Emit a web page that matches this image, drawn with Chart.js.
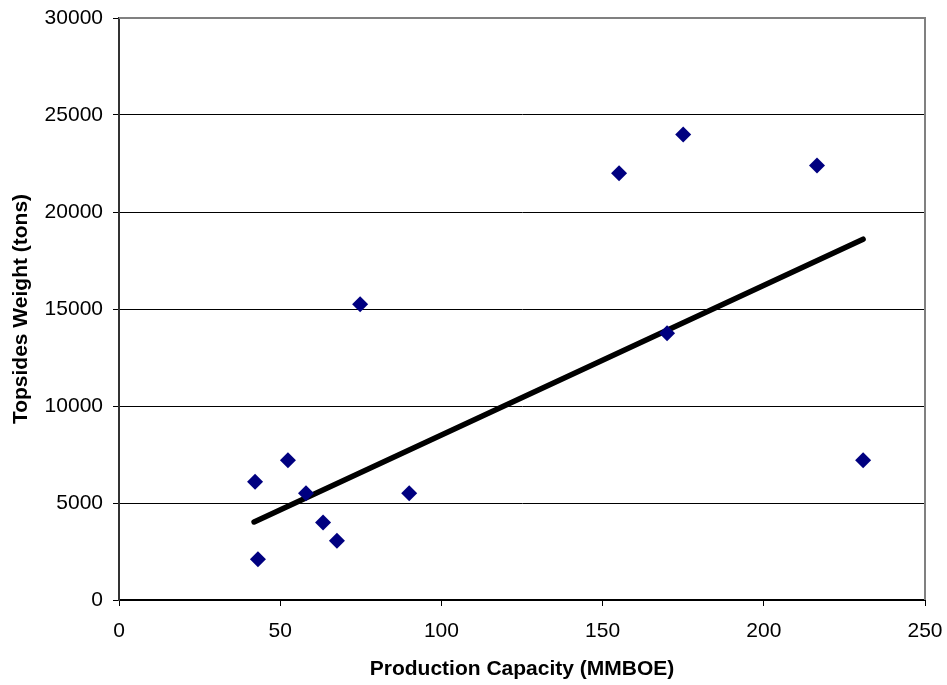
<!DOCTYPE html>
<html>
<head>
<meta charset="utf-8">
<script src="https://cdn.jsdelivr.net/npm/chart.js@4/dist/chart.umd.min.js"></script>
<style>
  body { margin: 0; background: #fff; }
  #wrap { width: 947px; height: 685px; }
</style>
</head>
<body>
<div id="wrap"><canvas id="myChart" width="947" height="685"></canvas></div>
<script>
// capacity (MMBOE) vs topsides weight (tons)
var capacity = [42.2, 43.1, 52.4, 58, 63.3, 67.6, 74.8, 90, 155.1, 170, 175, 216.5, 230.8];
var weight = [6100, 2100, 7200, 5500, 4000, 3050, 15250, 5500, 22000, 13750, 24000, 22400, 7200];

// trend line end points
var trendX = [41.9, 230.8];
var trendY = [4020, 18600];

var xTicks = [0, 50, 100, 150, 200, 250];
var yTicks = [0, 5000, 10000, 15000, 20000, 25000, 30000];

var points = [];
for (let i = 0; i < capacity.length; i++) {
    points.push({ x: capacity[i], y: weight[i] });
}
var trend = [];
for (let i = 0; i < trendX.length; i++) {
    trend.push({ x: trendX[i], y: trendY[i] });
}

// gray frame on the top and right of the plot
const framePlugin = {
    id: 'frame',
    beforeDatasetsDraw(chart) {
        const a = chart.chartArea;
        const ctx = chart.ctx;
        ctx.save();
        ctx.strokeStyle = '#808080';
        ctx.lineWidth = 2;
        ctx.beginPath();
        ctx.moveTo(a.left, a.top);
        ctx.lineTo(a.right, a.top);
        ctx.lineTo(a.right, a.bottom);
        ctx.stroke();
        ctx.restore();
    }
};

Chart.defaults.font.family = '"Liberation Sans", Arial, sans-serif';
Chart.defaults.color = '#000';

new Chart('myChart', {
    type: 'scatter',
    data: {
        datasets: [{
            data: points,
            pointStyle: 'rectRot',
            pointRadius: 8,
            pointHoverRadius: 8,
            backgroundColor: '#000080',
            borderColor: '#000080',
            borderWidth: 0
        }, {
            type: 'line',
            data: trend,
            borderColor: '#000',
            borderWidth: 5.5,
            borderCapStyle: 'round',
            pointRadius: 0,
            fill: false
        }]
    },
    options: {
        responsive: false,
        animation: false,
        layout: { padding: { top: 18, right: 22, left: 0, bottom: 0 } },
        plugins: {
            legend: { display: false },
            tooltip: { enabled: false }
        },
        scales: {
            x: {
                type: 'linear',
                min: 0,
                max: 250,
                afterFit: function (scale) {
                    scale.height = 85;
                    scale.paddingLeft = 0;
                    scale.paddingRight = 0;
                },
                afterBuildTicks: function (scale) {
                    scale.ticks = xTicks.map(v => ({ value: v }));
                },
                ticks: {
                    font: { size: 21 },
                    padding: 13,
                    callback: v => String(v)
                },
                grid: {
                    drawOnChartArea: false,
                    drawTicks: true,
                    tickLength: 6,
                    color: '#000'
                },
                border: { display: true, color: '#000', width: 2 },
                title: {
                    display: true,
                    text: 'Production Capacity (MMBOE)',
                    font: { size: 21, weight: 'bold' },
                    padding: { top: 0, bottom: 3 }
                }
            },
            y: {
                type: 'linear',
                min: 0,
                max: 30000,
                afterFit: function (scale) {
                    scale.width = 119;
                    scale.paddingTop = 0;
                    scale.paddingBottom = 0;
                },
                afterBuildTicks: function (scale) {
                    scale.ticks = yTicks.map(v => ({ value: v }));
                },
                ticks: {
                    font: { size: 21 },
                    padding: 10,
                    callback: v => String(v)
                },
                grid: {
                    drawTicks: true,
                    tickLength: 6,
                    color: '#000',
                    lineWidth: 1
                },
                border: { display: true, color: '#333', width: 2 },
                title: {
                    display: true,
                    text: 'Topsides Weight (tons)',
                    font: { size: 21, weight: 'bold' },
                    padding: { top: 9, bottom: 0 }
                }
            }
        }
    },
    plugins: [framePlugin]
});
</script>
</body>
</html>
